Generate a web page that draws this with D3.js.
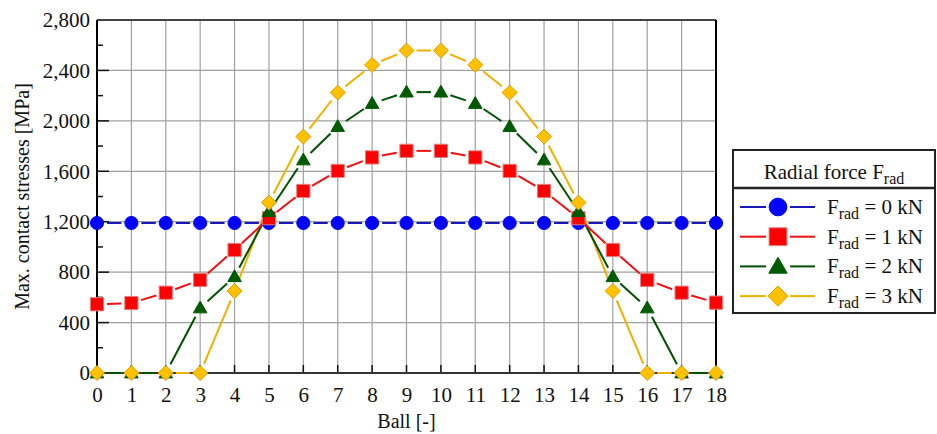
<!DOCTYPE html>
<html>
<head>
<meta charset="utf-8">
<script src="https://cdn.jsdelivr.net/npm/d3@7"></script>
<style>
  body { margin: 0; background: #fff; }
  svg { display: block; font-family: "Liberation Serif", "Times New Roman", serif; }
</style>
</head>
<body>
<div id="plot"></div>
<script>
// ball index on the x axis
var balls = [0, 1, 2, 3, 4, 5, 6, 7, 8, 9, 10, 11, 12, 13, 14, 15, 16, 17, 18];

// max. contact stresses [MPa] per radial force
var f0 = [1190, 1190, 1190, 1190, 1190, 1190, 1190, 1190, 1190, 1190, 1190, 1190, 1190, 1190, 1190, 1190, 1190, 1190, 1190];
var f1 = [545, 555, 637, 738, 976, 1228, 1444, 1603, 1710, 1762, 1762, 1710, 1603, 1444, 1228, 976, 738, 637, 558];
var f2 = [0, 0, 0, 516, 764, 1280, 1690, 1955, 2138, 2228, 2228, 2138, 1955, 1690, 1280, 764, 516, 0, 0];
var f3 = [0, 0, 0, 0, 650, 1352, 1875, 2224, 2444, 2558, 2558, 2444, 2224, 1875, 1352, 650, 0, 0, 0];

var yTicks = [0, 400, 800, 1200, 1600, 2000, 2400, 2800];
var legendLabels = ['0', '1', '2', '3'];

var W = 937, H = 434;
var m = {top: 20, right: 221, bottom: 61, left: 97};
var w = W - m.left - m.right;
var h = H - m.top - m.bottom;

var series = [
  {vals: f0, line: '#1818b8', fill: '#0000ff', stroke: '#0000ff', sym: 'circle'},
  {vals: f1, line: '#ee1111', fill: '#ff0000', stroke: '#e08080', sym: 'square'},
  {vals: f2, line: '#005000', fill: '#005a00', stroke: '#005a00', sym: 'triangle'},
  {vals: f3, line: '#f0b000', fill: '#ffc000', stroke: '#d8a000', sym: 'diamond'}
];

var xscale = d3.scaleLinear().domain([0, 18]).range([0, w]);
var yscale = d3.scaleLinear().domain([0, 2800]).range([h, 0]);

var svg = d3.select('#plot').append('svg')
  .attr('width', W)
  .attr('height', H);

var g = svg.append('g')
  .attr('transform', 'translate(' + m.left + ',' + m.top + ')');

// grid
g.append('g').attr('class', 'xgrid')
  .selectAll('line').data(balls).enter().append('line')
  .attr('x1', function(d) { return xscale(d); })
  .attr('x2', function(d) { return xscale(d); })
  .attr('y1', 0).attr('y2', h)
  .attr('stroke', '#a0a0a0').attr('stroke-width', 1.2);

g.append('g').attr('class', 'ygrid')
  .selectAll('line').data(yTicks).enter().append('line')
  .attr('x1', 0).attr('x2', w)
  .attr('y1', function(d) { return yscale(d); })
  .attr('y2', function(d) { return yscale(d); })
  .attr('stroke', '#a0a0a0').attr('stroke-width', 1.2);

// axes
var yaxis = d3.axisLeft(yscale).tickValues(yTicks).tickSize(0).tickPadding(7)
  .tickFormat(d3.format(','));
var yax = g.append('g').attr('class', 'yaxis').call(yaxis);
yax.select('.domain').remove();

var xaxis = d3.axisBottom(xscale).tickValues(balls).tickSize(0).tickPadding(14)
  .tickFormat(d3.format('d'));
var xax = g.append('g').attr('class', 'xaxis')
  .attr('transform', 'translate(0,' + h + ')').call(xaxis);
xax.select('.domain').remove();

svg.selectAll('.tick text')
  .attr('font-family', '"Liberation Serif", serif')
  .attr('font-size', 21)
  .attr('fill', '#111');

// inner ticks
var minor = d3.range(0, 2801, 200);
g.append('g').selectAll('line').data(minor).enter().append('line')
  .attr('x1', 0)
  .attr('x2', function(d) { return d % 400 === 0 ? 12 : 6; })
  .attr('y1', function(d) { return yscale(d); })
  .attr('y2', function(d) { return yscale(d); })
  .attr('stroke', '#111').attr('stroke-width', 1.5);

g.append('g').selectAll('line').data(balls).enter().append('line')
  .attr('x1', function(d) { return xscale(d); })
  .attr('x2', function(d) { return xscale(d); })
  .attr('y1', h).attr('y2', h - 8)
  .attr('stroke', '#111').attr('stroke-width', 1.5);

// frame
g.append('line').attr('x1', 0).attr('x2', w).attr('y1', 0).attr('y2', 0)
  .attr('stroke', '#444').attr('stroke-width', 2);
g.append('line').attr('x1', 0).attr('x2', w).attr('y1', h).attr('y2', h)
  .attr('stroke', '#333').attr('stroke-width', 2);
g.append('line').attr('x1', 0).attr('x2', 0).attr('y1', 0).attr('y2', h)
  .attr('stroke', '#000').attr('stroke-width', 2);
g.append('line').attr('x1', w).attr('x2', w).attr('y1', 0).attr('y2', h)
  .attr('stroke', '#000').attr('stroke-width', 2);

// symbols, k scales the marker (legend markers are bigger)
function symPath(s, k) {
  k = k || 1;
  if (s === 'circle') return d3.symbol().type(d3.symbolCircle).size(135 * k * k)();
  if (s === 'square') return d3.symbol().type(d3.symbolSquare).size(175 * k * k)();
  if (s === 'triangle') return d3.symbol().type(d3.symbolTriangle).size(80 * k * k)();
  var r = 7.5 * k;
  return 'M0,' + (-r) + 'L' + r + ',0L0,' + r + 'L' + (-r) + ',0Z';
}

var gap = 10;

function gappedSegments(pts) {
  var segs = [];
  for (var i = 0; i < pts.length - 1; i++) {
    var a = pts[i], b = pts[i + 1];
    var dx = b[0] - a[0], dy = b[1] - a[1];
    var L = Math.sqrt(dx * dx + dy * dy);
    if (L <= 2 * gap) continue;
    var ux = dx / L, uy = dy / L;
    segs.push([a[0] + ux * gap, a[1] + uy * gap, b[0] - ux * gap, b[1] - uy * gap]);
  }
  return segs;
}

// draw series lines, last one underneath
series.slice().reverse().forEach(function(s) {
  var pts = balls.map(function(b, i) { return [xscale(b), yscale(s.vals[i])]; });
  g.append('g').selectAll('line').data(gappedSegments(pts)).enter().append('line')
    .attr('x1', function(d) { return d[0]; })
    .attr('y1', function(d) { return d[1]; })
    .attr('x2', function(d) { return d[2]; })
    .attr('y2', function(d) { return d[3]; })
    .attr('stroke', s.line).attr('stroke-width', 2);
});

series.forEach(function(s) {
  g.append('g').selectAll('path').data(s.vals).enter().append('path')
    .attr('d', symPath(s.sym))
    .attr('transform', function(d, i) {
      var dy = s.sym === 'triangle' ? 1 : 0;
      return 'translate(' + xscale(balls[i]) + ',' + (yscale(d) + dy) + ')';
    })
    .attr('fill', s.fill)
    .attr('stroke', s.stroke).attr('stroke-width', 1);
});

// axis titles
svg.append('text')
  .attr('x', m.left + w / 2).attr('y', 428)
  .attr('text-anchor', 'middle')
  .attr('font-size', 20).attr('fill', '#111')
  .text('Ball [-]');

svg.append('text')
  .attr('transform', 'translate(29,' + (m.top + h / 2) + ') rotate(-90)')
  .attr('text-anchor', 'middle')
  .attr('font-size', 20).attr('fill', '#111')
  .text('Max. contact stresses [MPa]');

// legend
var lg = svg.append('g').attr('transform', 'translate(733,150)');
var lw = 202, lh = 163;
lg.append('rect').attr('x', 0).attr('y', 0).attr('width', lw).attr('height', lh)
  .attr('fill', '#fff').attr('stroke', '#222').attr('stroke-width', 2);
lg.append('line').attr('x1', 0).attr('x2', lw).attr('y1', 38).attr('y2', 38)
  .attr('stroke', '#222').attr('stroke-width', 2.5);

var title = lg.append('text')
  .attr('x', lw / 2).attr('y', 29)
  .attr('text-anchor', 'middle')
  .attr('font-size', 21).attr('fill', '#111');
title.append('tspan').text('Radial force F');
title.append('tspan').attr('dy', 5).attr('font-size', 16).text('rad');

series.forEach(function(s, i) {
  var yy = 57 + i * 29.7;
  lg.append('line').attr('x1', 7).attr('x2', 33).attr('y1', yy).attr('y2', yy)
    .attr('stroke', s.line).attr('stroke-width', 2);
  lg.append('line').attr('x1', 57).attr('x2', 82).attr('y1', yy).attr('y2', yy)
    .attr('stroke', s.line).attr('stroke-width', 2);
  lg.append('path').attr('d', symPath(s.sym, 1.35))
    .attr('transform', 'translate(45,' + (yy + (s.sym === 'triangle' ? 1.5 : 0)) + ')')
    .attr('fill', s.fill).attr('stroke', s.stroke).attr('stroke-width', 1);
  var t = lg.append('text').attr('x', 94).attr('y', yy + 7)
    .attr('font-size', 21).attr('fill', '#111');
  t.append('tspan').text('F');
  t.append('tspan').attr('dy', 5).attr('font-size', 16).text('rad');
  t.append('tspan').attr('dy', -5).text(' = ' + legendLabels[i] + ' kN');
});
</script>
</body>
</html>
